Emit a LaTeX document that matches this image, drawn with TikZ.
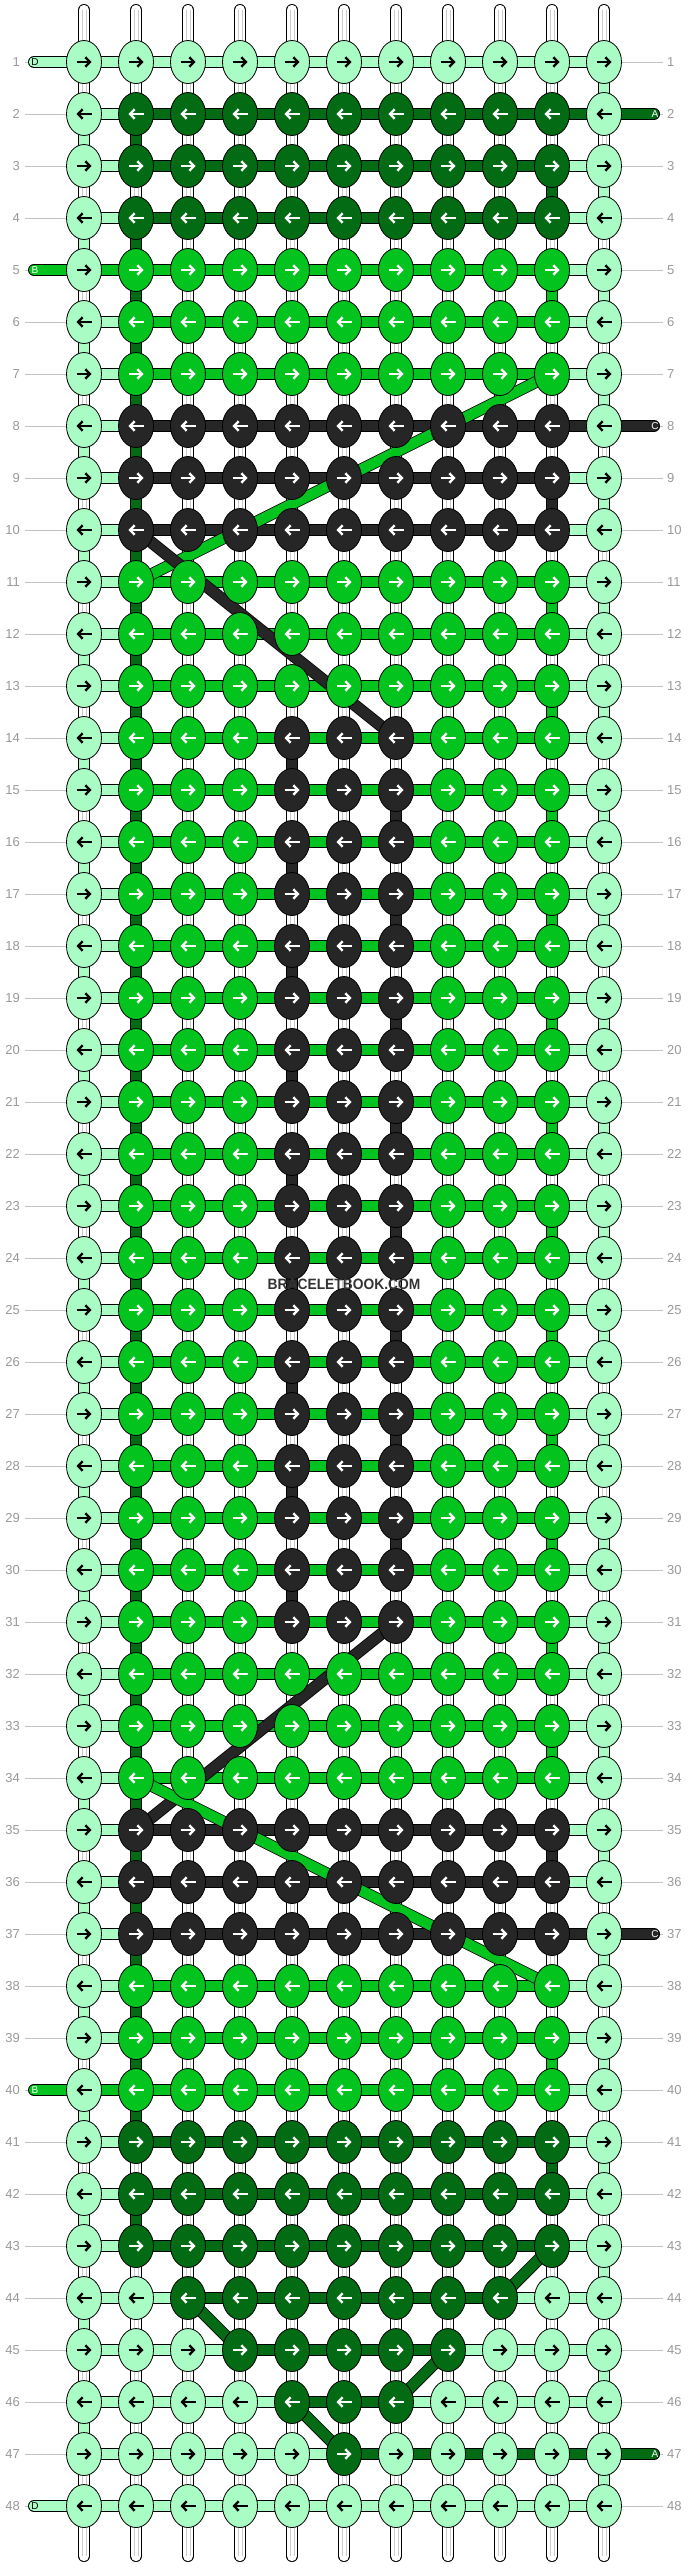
\documentclass[tikz,border=0pt]{standalone}
\usepackage{fontspec}
\setmainfont{Liberation Sans}
\usepackage{xstring}
\usetikzlibrary{shapes.geometric, arrows.meta}
\definecolor{cL}{HTML}{A8FCC4}
\definecolor{cG}{HTML}{03C41F}
\definecolor{cD}{HTML}{026B14}
\definecolor{cK}{HTML}{262626}
\colorlet{fL}{black}
\colorlet{fG}{white}
\colorlet{fD}{white}
\colorlet{fK}{white}
\definecolor{grigio}{HTML}{999999}
\definecolor{scritta}{HTML}{333333}
\tikzset{
  filo/.style={line width=0.8pt, draw=black, double=#1, double distance=10.4pt},
  base/.style={filo=white},
  nodo/.style={ellipse, draw=black, line width=0.8pt, minimum width=35pt, minimum height=43pt, inner sep=0pt},
  freccia/.style={line width=2.4pt, -{Straight Barb[length=4.5pt,width=9.5pt]}},
  etichetta/.style={text=grigio, font=\fontsize{13}{13}\selectfont, inner sep=0pt},
  lettera/.style={font=\fontsize{10}{10}\selectfont, inner sep=0pt}
}
\newcommand{\doppia}[2]{
  \draw[grigio!50, line width=0.6pt] ([xshift=-2pt]#1) -- ([xshift=-2pt]#2);
  \draw[grigio!50, line width=0.6pt] ([xshift=2pt]#1) -- ([xshift=2pt]#2);
}
% righe: prima/ultima/nodi/collegamenti
\def\righe{1/1/LLLLLLLLLLL/LLLLLLLLLL,
  2/2/LDDDDDDDDDL/LDDDDDDDDD,
  3/4/LDDDDDDDDDL/LDDDDDDDDL,
  5/5/LGGGGGGGGGL/GGGGGGGGGL,
  6/7/LGGGGGGGGGL/LGGGGGGGGL,
  8/8/LKKKKKKKKKL/LKKKKKKKKK,
  9/10/LKKKKKKKKKL/LKKKKKKKKL,
  11/13/LGGGGGGGGGL/LGGGGGGGGL,
  14/31/LGGGKKKGGGL/LGGGGGGGGL,
  32/34/LGGGGGGGGGL/LGGGGGGGGL,
  35/36/LKKKKKKKKKL/LKKKKKKKKL,
  37/37/LKKKKKKKKKL/LKKKKKKKKK,
  38/39/LGGGGGGGGGL/LGGGGGGGGL,
  40/40/LGGGGGGGGGL/GGGGGGGGGL,
  41/43/LDDDDDDDDDL/LDDDDDDDDL,
  44/44/LLDDDDDDDLL/LLDDDDDDLL,
  45/45/LLLDDDDDLLL/LLLDDDDLLL,
  46/46/LLLLDDDLLLL/LLLLDDLLLL,
  47/47/LLLLLDLLLLL/LLLLLDDDDD,
  48/48/LLLLLLLLLLL/LLLLLLLLLL}

\begin{document}
\begin{tikzpicture}[x=1pt, y=-1pt]
    % Parametri
    \pgfmathsetmacro{\dx}{52}
    \pgfmathsetmacro{\dy}{52}
    \useasboundingbox (0,0) rectangle (688,2568);
    % Griglia
    \foreach \r in {1,...,48}{
      \foreach \c in {1,...,11}{
        \coordinate (k-\r-\c) at ({84+\dx*(\c-1)}, {62+\dy*(\r-1)});
      }
    }
    % Numeri di riga
    \foreach \r in {1,...,48}{
      \node[etichetta, anchor=east] (sx-\r) at ([xshift=-64pt]k-\r-1) {\r};
      \node[etichetta, anchor=west] (dx-\r) at ([xshift=63pt]k-\r-11) {\r};
      \draw[grigio!60, line width=0.8pt] ([xshift=5pt]sx-\r.east) -- (k-\r-1);
      \draw[grigio!60, line width=0.8pt] (k-\r-11) -- ([xshift=-4pt]dx-\r.west);
    }
    % Fili in alto e in basso
    \foreach \c in {1,...,11}{
      \coordinate (su-\c) at ({84+\dx*(\c-1)}, 10);
      \coordinate (giu-\c) at ({84+\dx*(\c-1)}, 2556);
      \draw[base, line cap=round] (su-\c) -- (k-1-\c);
      \draw[base, line cap=round] (k-48-\c) -- (giu-\c);
      \doppia{su-\c}{k-1-\c}
      \doppia{k-48-\c}{giu-\c}
    }
    % Collegamenti verticali
    \foreach \r [evaluate=\r as \s using int(\r+1)] in {1,...,47}{
      \foreach \c in {1,...,11}{
        \draw[base] (k-\r-\c) -- (k-\s-\c);
        \doppia{k-\r-\c}{k-\s-\c}
      }
    }
    \foreach \r [evaluate=\r as \s using int(\r+1)] in {2,4,...,46}
      \draw[filo=cL] (k-\r-1) -- (k-\s-1);
    \foreach \r [evaluate=\r as \s using int(\r+1)] in {1,3,...,47}
      \draw[filo=cL] (k-\r-11) -- (k-\s-11);
    \foreach \r [evaluate=\r as \s using int(\r+1)] in {4,...,40}
      \draw[filo=cD] (k-\r-2) -- (k-\s-2);
    \foreach \r [evaluate=\r as \s using int(\r+1)] in {2,42}
      \draw[filo=cD] (k-\r-2) -- (k-\s-2);
    \foreach \r [evaluate=\r as \s using int(\r+1)] in {11,13,...,33}
      \draw[filo=cG] (k-\r-10) -- (k-\s-10);
    \foreach \r/\col [evaluate=\r as \s using int(\r+1)] in {3/D,5/G,9/K,35/K,39/G,41/D}
      \draw[filo=c\col] (k-\r-10) -- (k-\s-10);
    \foreach \r [evaluate=\r as \s using int(\r+1)] in {14,16,...,30}
      \draw[filo=cK] (k-\r-5) -- (k-\s-5);
    \foreach \r [evaluate=\r as \s using int(\r+1)] in {15,17,...,29}
      \draw[filo=cK] (k-\r-7) -- (k-\s-7);
    % Collegamenti orizzontali
    \foreach \ra/\rb/\kn/\hc in \righe{
      \foreach \r in {\ra,...,\rb}{
        \foreach \c [evaluate=\c as \d using int(\c+1)] in {1,...,10}{
          \StrChar{\hc}{\c}[\cc]
          \draw[filo=c\cc] (k-\r-\c) -- (k-\r-\d);
        }
      }
    }
    % Capi
    \foreach \r/\col in {1/L,5/G,40/G,48/L}{
      \coordinate (cs-\r) at (34, {62+\dy*(\r-1)});
      \draw[filo=c\col, line cap=round] (cs-\r) -- (k-\r-1);
    }
    \foreach \r/\col in {2/D,8/K,37/K,47/D}{
      \coordinate (cd-\r) at (654, {62+\dy*(\r-1)});
      \draw[filo=c\col, line cap=round] (k-\r-11) -- (cd-\r);
    }
    % Diagonali
    \foreach \ra/\ca/\rb/\cb/\col in {7/10/11/2/G, 10/2/14/7/K, 31/7/35/2/K, 34/2/38/10/G,
        43/10/44/9/D, 44/3/45/4/D, 45/8/46/7/D, 46/5/47/6/D}
      \draw[filo=c\col] (k-\ra-\ca) -- (k-\rb-\cb);
    % Nodi
    \foreach \ra/\rb/\kn/\hc in \righe{
      \foreach \r in {\ra,...,\rb}{
        \foreach \c in {1,...,11}{
          \StrChar{\kn}{\c}[\cc]
          \node[nodo, fill=c\cc] (n-\r-\c) at (k-\r-\c) {};
          \ifodd\r \def\xa{-7.5}\def\xb{7.5}\else \def\xa{7.5}\def\xb{-7.5}\fi
          \draw[freccia, draw=f\cc] ([xshift=\xa pt]n-\r-\c.center) -- ([xshift=\xb pt]n-\r-\c.center);
        }
      }
    }
    % Lettere dei capi
    \foreach \r/\lett/\fc in {1/D/black,5/B/white,40/B/white,48/D/black}
      \node[lettera, text=\fc] (ls-\r) at ([xshift=1pt]cs-\r) {\lett};
    \foreach \r/\lett in {2/A,8/C,37/C,47/A}
      \node[lettera, text=white] (ld-\r) at ([xshift=1pt]cd-\r) {\lett};
    % Scritta
    \node[font=\bfseries\fontsize{15}{15}\selectfont, text=scritta, xscale=0.92, inner sep=0pt] (marchio) at (344,1284) {BRACELETBOOK.COM};
\end{tikzpicture}
\end{document}
